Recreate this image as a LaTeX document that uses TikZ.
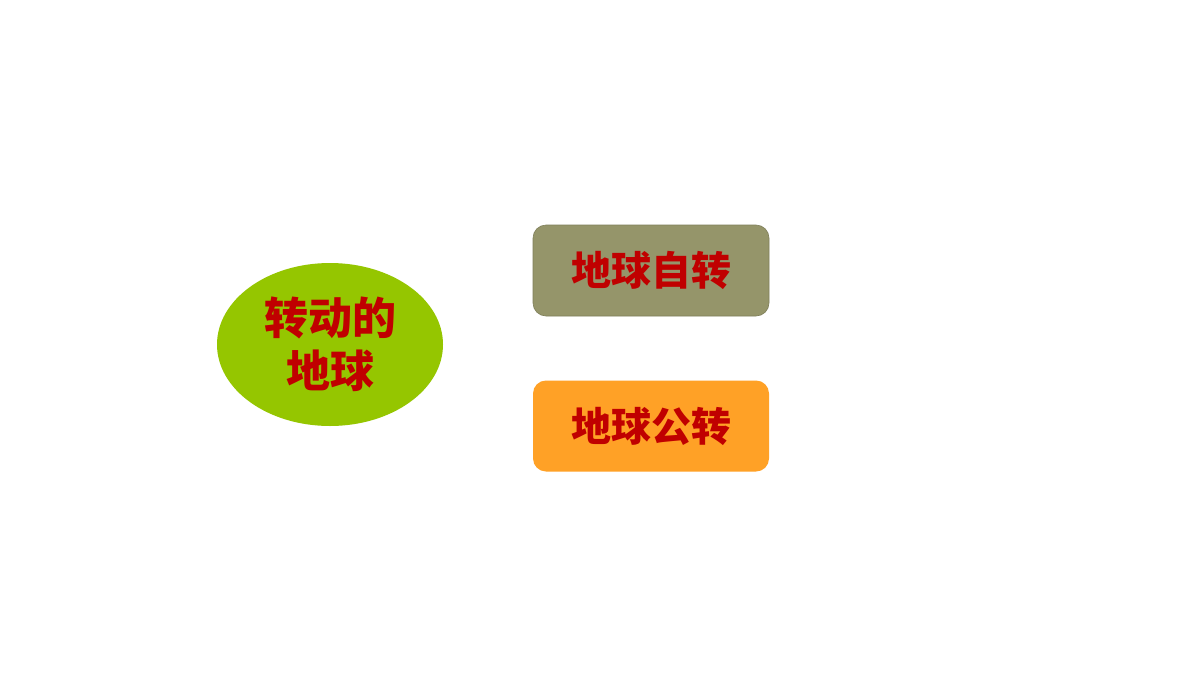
\documentclass[tikz,border=0pt]{standalone}
\usepackage{fontspec}
\newfontfamily\cjk{Noto Sans CJK SC}
\usetikzlibrary{shapes.geometric}
\definecolor{ellgreen}{HTML}{95C600}
\definecolor{olivebox}{HTML}{95956A}
\definecolor{orangebox}{HTML}{FFA126}
\definecolor{txtred}{HTML}{C00000}
\tikzset{
  lbl/.style={text=txtred, font=\cjk\bfseries\fontsize{40}{50}\selectfont, inner sep=0pt},
  boxnode/.style={lbl, rounded corners=13pt, minimum width=236pt, minimum height=91pt},
}
\begin{document}
\begin{tikzpicture}[x=1pt,y=-1pt]
\useasboundingbox[fill=white] (0,0) rectangle (1200,675);
\node[ellipse, fill=ellgreen, minimum width=226pt, minimum height=163pt, inner sep=0pt,
  text=txtred, font=\cjk\bfseries\fontsize{44}{53}\selectfont, align=center] (main) at (330,344.5) {转动的\\地球};
\node[boxnode, fill=olivebox, draw=olivebox!85!black, line width=0.6pt] (self) at (651,270.5) {地球自转};
\node[boxnode, fill=orangebox] (orbit) at (651,426) {地球公转};
\end{tikzpicture}
\end{document}
